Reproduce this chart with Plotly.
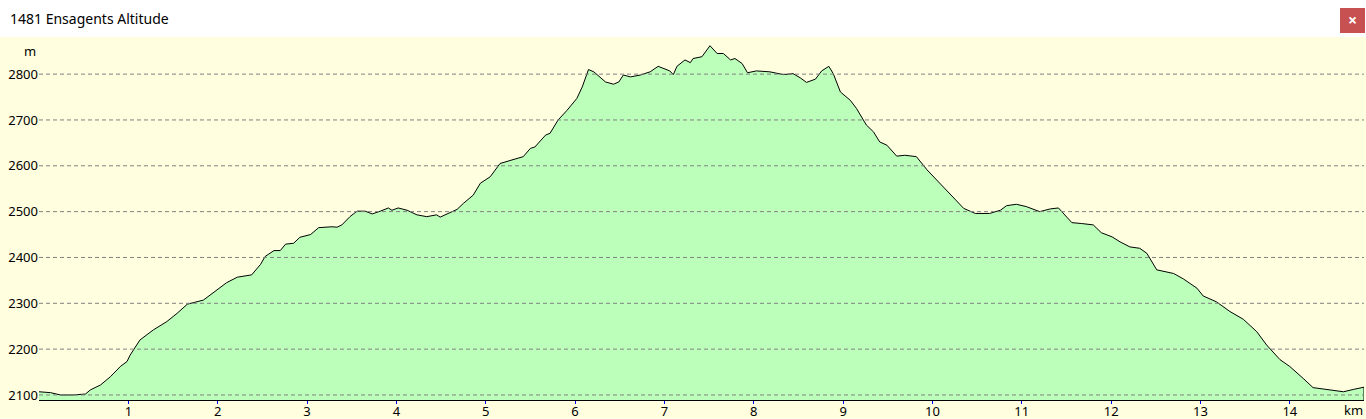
import plotly.graph_objects as go

km = [0.00, 0.13, 0.24, 0.385, 0.52, 0.575, 0.69, 0.80, 0.91, 0.985, 1.02, 1.13, 1.28, 1.43, 1.545,
      1.66, 1.84, 1.94, 2.10, 2.22, 2.38, 2.48, 2.53, 2.63, 2.70, 2.76, 2.85, 2.92, 3.04, 3.13,
      3.28, 3.335, 3.39, 3.48, 3.56, 3.65, 3.73, 3.82, 3.91, 3.95, 4.02, 4.12, 4.23, 4.34, 4.45,
      4.49, 4.60, 4.68, 4.75, 4.86, 4.94, 5.05, 5.16, 5.27, 5.42, 5.50, 5.55, 5.67, 5.72, 5.81,
      5.91, 6.02, 6.08, 6.15, 6.21, 6.34, 6.43, 6.49, 6.54, 6.62, 6.73, 6.84, 6.93, 7.06, 7.10,
      7.14, 7.23, 7.29, 7.32, 7.42, 7.51, 7.59, 7.66, 7.74, 7.79, 7.87, 7.93, 8.03, 8.18, 8.33,
      8.44, 8.52, 8.59, 8.69, 8.76, 8.84, 8.89, 8.97, 9.08, 9.15, 9.26, 9.34, 9.41, 9.49, 9.60,
      9.69, 9.82, 9.94, 10.08, 10.20, 10.35, 10.48, 10.64, 10.76, 10.83, 10.94, 11.05, 11.20,
      11.32, 11.41, 11.56, 11.67, 11.80, 11.89, 12.01, 12.10, 12.21, 12.32, 12.40, 12.51, 12.70,
      12.81, 12.96, 13.03, 13.18, 13.33, 13.48, 13.63, 13.74, 13.89, 14.00, 14.15, 14.26, 14.45,
      14.60, 14.71, 14.83]
altitude = [2107, 2105, 2100, 2100, 2102, 2111, 2122, 2140, 2162, 2173, 2187, 2220, 2242, 2260, 2278,
            2298, 2307, 2322, 2345, 2357, 2362, 2385, 2402, 2415, 2415, 2429, 2431, 2444, 2450, 2465,
            2467, 2466, 2471, 2489, 2501, 2501, 2495, 2501, 2508, 2503, 2508, 2503, 2493, 2489, 2493,
            2488, 2498, 2505, 2518, 2536, 2562, 2576, 2605, 2612, 2620, 2638, 2641, 2667, 2671, 2700,
            2721, 2747, 2772, 2810, 2805, 2783, 2778, 2783, 2798, 2794, 2798, 2805, 2817, 2807, 2799,
            2817, 2831, 2825, 2834, 2838, 2862, 2845, 2845, 2831, 2834, 2823, 2803, 2807, 2805, 2799,
            2801, 2792, 2782, 2789, 2807, 2817, 2801, 2761, 2743, 2725, 2689, 2674, 2652, 2645, 2621,
            2623, 2620, 2591, 2562, 2536, 2507, 2496, 2496, 2503, 2513, 2516, 2511, 2500,
            2506, 2508, 2476, 2474, 2471, 2454, 2445, 2434, 2423, 2420, 2409, 2373, 2365,
            2353, 2333, 2316, 2303, 2282, 2265, 2238, 2209, 2177, 2162, 2136, 2116, 2111,
            2107, 2112, 2117]

x_ticks = list(range(1, 15))
y_ticks = [2100, 2200, 2300, 2400, 2500, 2600, 2700, 2800]
y_range = [2089, 2881]
x_range = [0, 14.83]

title_text = "1481 Ensagents Altitude"
y_unit = "m"
x_unit = "km"

FONT = "Noto Sans"
BG = "#FFFFDF"

fig = go.Figure()
fig.add_trace(go.Scatter(
    x=km, y=altitude, mode="lines", fill="tozeroy",
    fillcolor="#BBFFBB", line=dict(color="black", width=1),
    hoverinfo="x+y", showlegend=False,
))
# vertical closing line at the end of the profile
fig.add_trace(go.Scatter(
    x=[km[-1], km[-1]], y=[y_range[0], altitude[-1]], mode="lines",
    line=dict(color="black", width=1), showlegend=False, hoverinfo="skip",
))

shapes = []
for v in y_ticks:
    shapes.append(dict(type="line", xref="paper", x0=0, x1=1, yref="y", y0=v, y1=v,
                       line=dict(color="#808080", width=1, dash="4px,3px"), layer="above"))

L, R, T, B = 39, 2, 37, 19
W, H = 1366, 419
pw, ph = W - L - R, H - T - B

def px(x):
    return (x - L) / pw

def py(y):
    return (H - B - y) / ph

# white title bar
shapes.append(dict(type="rect", xref="paper", yref="paper", x0=px(-2), x1=px(W + 2),
                   y0=py(T), y1=py(-2), fillcolor="white", line=dict(width=0), layer="above"))
# close button
shapes.append(dict(type="rect", xref="paper", yref="paper", x0=px(1340), x1=px(1365),
                   y0=py(33), y1=py(8), fillcolor="#C75050", line=dict(width=0), layer="above"))

annotations = [
    dict(text=title_text, xref="paper", yref="paper", x=px(8), y=py(19), xanchor="left",
         yanchor="middle", showarrow=False, font=dict(family=FONT, size=14, color="black")),
    dict(text="<b>×</b>", xref="paper", yref="paper", x=px(1352.5), y=py(20), xanchor="center",
         yanchor="middle", showarrow=False, font=dict(family=FONT, size=16, color="white")),
    dict(text=y_unit, xref="paper", yref="paper", x=px(30), y=py(51), xanchor="center",
         yanchor="middle", showarrow=False, font=dict(family=FONT, size=13, color="black")),
    dict(text=x_unit, xref="paper", yref="paper", x=px(1353), y=py(410), xanchor="center",
         yanchor="middle", showarrow=False, font=dict(family=FONT, size=13, color="black")),
]

fig.update_layout(
    width=W, height=H,
    margin=dict(l=L, r=R, t=T, b=B, pad=0, autoexpand=False),
    paper_bgcolor=BG, plot_bgcolor=BG,
    font=dict(family=FONT, size=13, color="black"),
    shapes=shapes, annotations=annotations,
    xaxis=dict(range=x_range, tickvals=x_ticks, ticks="outside", ticklen=3, tickwidth=1,
               tickcolor="#0000FF", showline=True, linecolor="black", linewidth=1,
               showgrid=False, zeroline=False, tickfont=dict(size=13), automargin=False,
               ticklabelstandoff=-4),
    yaxis=dict(range=y_range, tickvals=y_ticks, ticks="", showgrid=False, zeroline=False,
               showline=False, tickfont=dict(size=13), automargin=False),
)

fig.write_html("out.html", config=dict(displayModeBar=False),
               post_script="document.body.style.margin='0';document.body.style.overflow='hidden';")
